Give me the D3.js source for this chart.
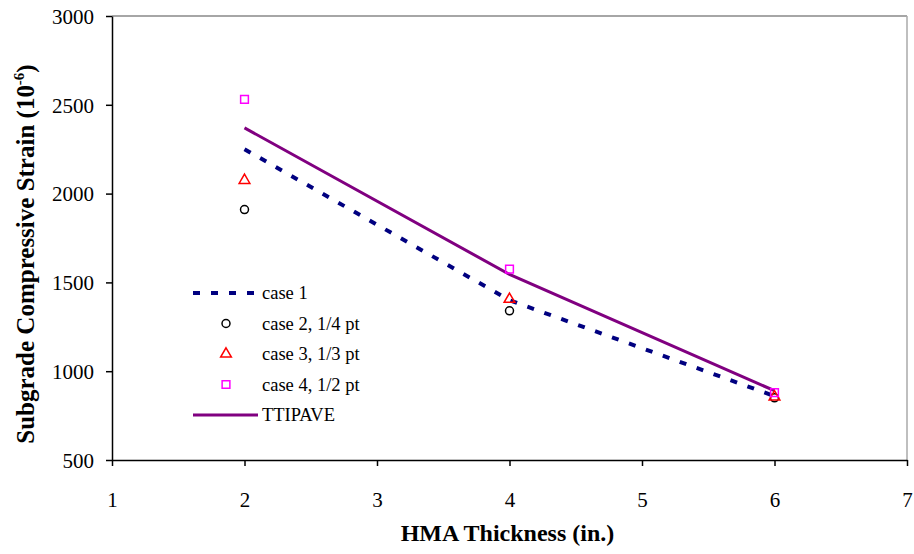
<!DOCTYPE html>
<html>
<head>
<meta charset="utf-8">
<script src="https://cdn.jsdelivr.net/npm/d3@7"></script>
<style>
  body { margin: 0; background: #fff; }
  text { font-family: "Liberation Serif", "Times New Roman", serif; }
</style>
</head>
<body>
<svg id="chart" width="914" height="554"></svg>
<script>
// data
const thickness = [2, 4, 6];
const case1 = [2250, 1400, 860];
const case2 = [1910, 1340, 850];
const case3 = [2075, 1405, 855];
const case4 = [2530, 1575, 880];
const ttipave = [2370, 1545, 890];
const xTicks = [1, 2, 3, 4, 5, 6, 7];
const yTicks = [500, 1000, 1500, 2000, 2500, 3000];

const svg = d3.select("#chart");
const margin = {left: 112, right: 7, top: 16, bottom: 94};
const width = 914, height = 554;

const x = d3.scaleLinear().domain([1, 7]).range([margin.left, width - margin.right]);
const y = d3.scaleLinear().domain([500, 3000]).range([height - margin.bottom, margin.top]);

// gray frame on top / right
svg.append("line")
  .attr("x1", x(1)).attr("x2", x(7)).attr("y1", y(3000)).attr("y2", y(3000))
  .attr("stroke", "#888").attr("stroke-width", 1.5);
svg.append("line")
  .attr("x1", x(7)).attr("x2", x(7)).attr("y1", y(3000)).attr("y2", y(500))
  .attr("stroke", "#aaa").attr("stroke-width", 1.5);

const xAxis = d3.axisBottom(x).tickValues(xTicks).tickSize(6).tickSizeOuter(0).tickFormat(d3.format("d"));
const yAxis = d3.axisLeft(y).tickValues(yTicks).tickSize(6).tickSizeOuter(0).tickFormat(d3.format("d"));

const gx = svg.append("g")
  .attr("transform", `translate(0,${y(500)})`)
  .call(xAxis);
const gy = svg.append("g")
  .attr("transform", `translate(${x(1)},0)`)
  .call(yAxis);

[gx, gy].forEach(g => {
  g.selectAll("path, line").attr("stroke", "#000").attr("stroke-width", 1.5);
  g.selectAll("text").attr("fill", "#000").style("font-size", "21px").attr("font-family", null);
});
gx.selectAll("text").attr("dy", null).attr("y", 47);
gy.selectAll("text").attr("x", -18).attr("dy", "0.35em");

// axis titles
svg.append("text")
  .attr("x", (x(1) + x(7)) / 2 - 2).attr("y", 541)
  .attr("text-anchor", "middle")
  .style("font-size", "24px").style("font-weight", "bold")
  .text("HMA Thickness (in.)");

const yt = svg.append("text")
  .attr("transform", `translate(34,${(y(500) + y(3000)) / 2 + 16}) rotate(-90)`)
  .attr("text-anchor", "middle")
  .style("font-size", "25px").style("font-weight", "bold");
yt.append("tspan").text("Subgrade Compressive Strain (10");
yt.append("tspan").attr("dy", -10).style("font-size", "15px").text("-6");
yt.append("tspan").attr("dy", 10).text(")");

const pts = vals => thickness.map((t, i) => [t, vals[i]]);
const line = d3.line().x(d => x(d[0])).y(d => y(d[1]));

// lines
svg.append("path").datum(pts(case1))
  .attr("d", line).attr("fill", "none")
  .attr("stroke", "#000080").attr("stroke-width", 4)
  .attr("stroke-dasharray", "7,11");
svg.append("path").datum(pts(ttipave))
  .attr("d", line).attr("fill", "none")
  .attr("stroke", "#800080").attr("stroke-width", 3);

// markers
const sym = {
  circle: d3.symbol().type(d3.symbolCircle).size(50),
  triangle: d3.symbol().type(d3.symbolTriangle).size(50),
  square: d3.symbol().type(d3.symbolSquare).size(60)
};
function markers(vals, shape, color) {
  svg.append("g").selectAll("path")
    .data(pts(vals)).join("path")
    .attr("transform", d => `translate(${x(d[0])},${y(d[1])})`)
    .attr("d", sym[shape])
    .attr("fill", "none").attr("stroke", color).attr("stroke-width", 1.5);
}
markers(case2, "circle", "#000");
markers(case3, "triangle", "#ff0000");
markers(case4, "square", "#ff00ff");

// legend
const legend = [
  {label: "case 1", kind: "dash", color: "#000080"},
  {label: "case 2, 1/4 pt", kind: "circle", color: "#000"},
  {label: "case 3, 1/3 pt", kind: "triangle", color: "#ff0000"},
  {label: "case 4, 1/2 pt", kind: "square", color: "#ff00ff"},
  {label: "TTIPAVE", kind: "solid", color: "#800080"}
];
const lg = svg.append("g").attr("transform", "translate(193,293)");
legend.forEach((l, i) => {
  const row = lg.append("g").attr("transform", `translate(0,${i * 30.5})`);
  if (l.kind === "dash") {
    row.append("line").attr("x1", 0).attr("x2", 65).attr("y1", 0).attr("y2", 0)
      .attr("stroke", l.color).attr("stroke-width", 4).attr("stroke-dasharray", "7,11");
  } else if (l.kind === "solid") {
    row.append("line").attr("x1", 0).attr("x2", 65).attr("y1", 0).attr("y2", 0)
      .attr("stroke", l.color).attr("stroke-width", 3);
  } else {
    row.append("path").attr("transform", "translate(33,0)")
      .attr("d", sym[l.kind])
      .attr("fill", "none").attr("stroke", l.color).attr("stroke-width", 1.5);
  }
  row.append("text").attr("x", 69).attr("y", 0).attr("dy", "0.35em")
    .style("font-size", "18.5px").text(l.label);
});
</script>
</body>
</html>
